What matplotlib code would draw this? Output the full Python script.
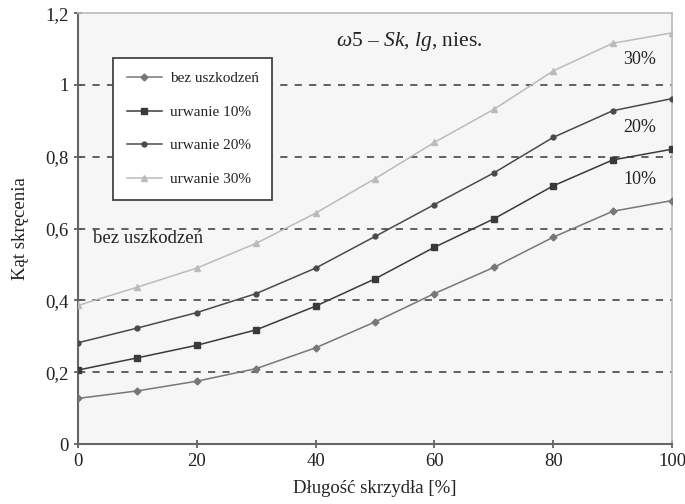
import matplotlib
matplotlib.use("Agg")
import matplotlib.pyplot as plt
from matplotlib.ticker import FuncFormatter, FixedLocator

plt.rcParams['font.family'] = ['Liberation Serif', 'DejaVu Serif']
plt.rcParams['mathtext.fontset'] = 'custom'
plt.rcParams['mathtext.rm'] = 'Liberation Serif'
plt.rcParams['mathtext.it'] = 'Liberation Serif:italic'

x = [0, 10, 20, 30, 40, 50, 60, 70, 80, 90, 100]
bez = [0.127, 0.148, 0.175, 0.21, 0.268, 0.34, 0.419, 0.492, 0.576, 0.648, 0.678]
u10 = [0.206, 0.24, 0.275, 0.318, 0.384, 0.46, 0.548, 0.627, 0.719, 0.791, 0.821]
u20 = [0.282, 0.323, 0.366, 0.419, 0.49, 0.578, 0.667, 0.755, 0.854, 0.928, 0.962]
u30 = [0.386, 0.437, 0.49, 0.559, 0.643, 0.739, 0.84, 0.932, 1.039, 1.116, 1.145]
series_names = ["bez uszkodzeń", "urwanie 10%", "urwanie 20%", "urwanie 30%"]
yticks = [0, 0.2, 0.4, 0.6, 0.8, 1.0, 1.2]
xticks = [0, 20, 40, 60, 80, 100]

fig = plt.figure(figsize=(6.85, 5.04), dpi=100)
ax = fig.add_axes([0.1139, 0.119, 0.8672, 0.855])
ax.set_facecolor('#f6f6f6')

for yv in yticks[1:-1]:
    ax.axhline(yv, color='#555555', linestyle=(0, (4, 4)), linewidth=1.3, zorder=1)

ax.plot(x, bez, color='#777777', marker='D', markersize=3.5, linewidth=1.1, label=series_names[0], zorder=3)
ax.plot(x, u10, color='#3a3a3a', marker='s', markersize=4, linewidth=1.1, label=series_names[1], zorder=3)
ax.plot(x, u20, color='#4a4a4a', marker='o', markersize=3.5, linewidth=1.1, label=series_names[2], zorder=3)
ax.plot(x, u30, color='#bbbbbb', marker='^', markersize=4.5, linewidth=1.1, label=series_names[3], zorder=3)

ax.set_xlim(0, 100)
ax.set_ylim(0, 1.2)
ax.xaxis.set_major_locator(FixedLocator(xticks))
ax.yaxis.set_major_locator(FixedLocator(yticks))
ax.yaxis.set_major_formatter(FuncFormatter(lambda v, p: ('%g' % round(v, 2)).replace('.', ',')))
ax.tick_params(direction='inout', length=6, width=1.2, colors='#555555', labelcolor='#222222', labelsize=13.5)

for s in ['left', 'bottom']:
    ax.spines[s].set_color('#666666')
    ax.spines[s].set_linewidth(1.5)
for s in ['top', 'right']:
    ax.spines[s].set_color('#bbbbbb')
    ax.spines[s].set_linewidth(1.2)

ax.set_xlabel('Długość skrzydła [%]', fontsize=13.5, color='#222222', labelpad=7)
ax.set_ylabel('Kąt skręcenia', fontsize=13.5, color='#222222', labelpad=12)

leg = ax.legend(loc='upper left', bbox_to_anchor=(0.059, 0.896), borderaxespad=0, fontsize=11, frameon=True,
                fancybox=False, edgecolor='#444444', framealpha=1, facecolor='white',
                handlelength=2.3, labelspacing=1.3, borderpad=0.9, handletextpad=0.5)
leg.get_frame().set_linewidth(1.3)
for t in leg.get_texts():
    t.set_color('#222222')

ax.text(0.434, 0.935, r'$\omega$5 – $\mathit{Sk}$, $\mathit{lg}$, nies.', transform=ax.transAxes, fontsize=15.5,
        color='#222222', ha='left', va='center')

ax.text(94.6, 1.072, '30%', fontsize=13, color='#222222', ha='center', va='center')
ax.text(94.6, 0.882, '20%', fontsize=13, color='#222222', ha='center', va='center')
ax.text(94.6, 0.738, '10%', fontsize=13, color='#222222', ha='center', va='center')
ax.text(2.5, 0.573, 'bez uszkodzeń', fontsize=13.5, color='#222222', ha='left', va='center')

fig.savefig('out.png', dpi=100)
